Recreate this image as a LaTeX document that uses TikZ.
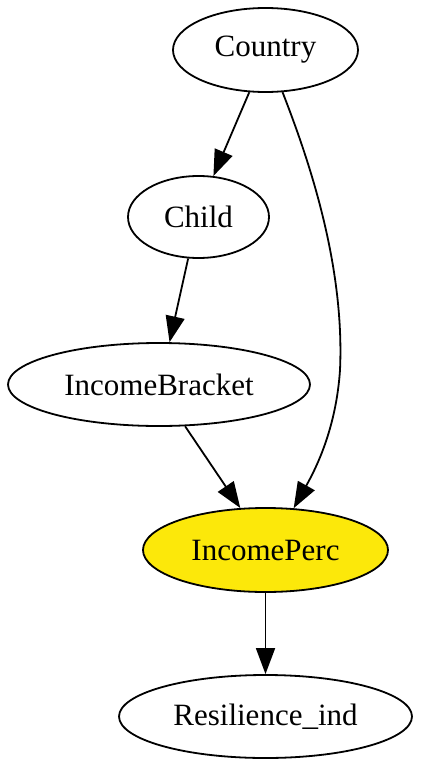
\documentclass[tikz,border=0pt]{standalone}
\usepackage{fontspec}
\setmainfont{Liberation Serif}
\usetikzlibrary{arrows.meta,shapes.geometric}
\definecolor{nodeyellow}{RGB}{252,232,10}
\tikzset{
  gnode/.style={ellipse, draw=black, line width=1.8pt, inner sep=0pt,
    font=\fontsize{31}{37}\selectfont},
  arr/.style={line width=1.8pt, -{Triangle[length=26pt,width=19pt]}}
}
\begin{document}
\begin{tikzpicture}[x=1pt,y=-1pt]
\useasboundingbox (0,0) rectangle (421,768);
\node[gnode, minimum width=185pt, minimum height=84pt] (country) at (265.5,50) {Country};
\node[gnode, minimum width=141pt, minimum height=82pt] (child) at (198.5,217) {Child};
\node[gnode, minimum width=302pt, minimum height=83pt] (bracket) at (159,384.5) {IncomeBracket};
\node[gnode, fill=nodeyellow, minimum width=245pt, minimum height=84pt] (perc) at (265.5,550) {IncomePerc};
\node[gnode, minimum width=293pt, minimum height=83pt] (res) at (265.5,716.5) {Resilience\_ind};
\draw[arr] (country.-111) -- (child.70);
\draw[arr] (child.-104) -- (bracket.76.5);
\draw[arr] (bracket.-58) -- (perc.121);
\draw[arr] (country.-68) .. controls (305,150) and (345,260) .. (340,370)
  .. controls (336,430) and (315,470) .. (perc.56.5);
\draw[arr] (perc.south) -- (res.north);
\end{tikzpicture}
\end{document}
